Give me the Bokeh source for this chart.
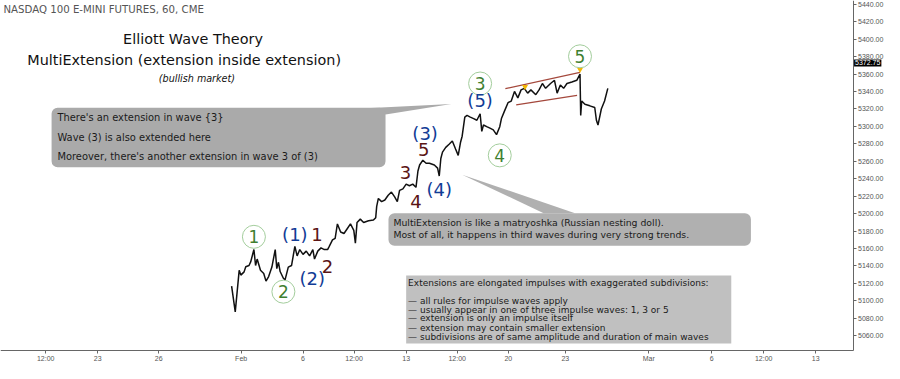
from bokeh.plotting import figure
from bokeh.models import Range1d, FixedTicker, Label, BoxAnnotation, PrintfTickFormatter
from bokeh.core.properties import value
from bokeh.embed import file_html
from bokeh.resources import INLINE

# ---------------- data ----------------
# position of each sampled hourly bar on the trading-time axis, and its price
bar_pos = [235.3, 239, 243, 244.7, 248, 249.7, 253, 254.7, 258, 259.7, 261.3, 264.7, 268, 270.3, 273, 276.3,
           279.7, 281.3, 283, 284.7, 288, 289.7, 293, 296.3, 299.7, 302, 304.7, 308, 311.3, 314.7, 318, 319.7,
           323, 326.3, 329.7, 333, 334.7, 338, 340.7, 343, 346.3, 349.7, 353, 356.3, 359.7, 361.3, 363, 366.3,
           369.7, 374.7, 379.7, 382, 383, 384.7, 388, 391.3, 394.7, 398, 401.3, 404, 406.3, 409.7, 413, 416.3,
           419.7, 423, 425, 426.7, 430, 433.3, 436.7, 441.7, 445, 446.7, 448.3, 450, 453.3, 456.7, 460, 463.3,
           466, 468.3, 470, 472.7, 475, 478.3, 481.7, 485, 488.3, 490, 491.7, 495, 498.3, 501.7, 505, 508.3,
           510, 513.3, 516.7, 520, 523.3, 526.7, 530, 533.3, 536.7, 540, 545, 548.3, 551.7, 555, 560, 564,
           566.7, 570, 573.3, 576.7, 581.7, 586.7, 590, 590.7, 591.7, 595, 600, 605, 606.7, 608.3, 610, 611.7,
           615, 618.3]
price = [5116.8, 5087.4, 5135, 5129.5, 5133.2, 5139.1, 5140.5, 5144.6, 5158.8, 5140.5, 5147.9, 5135, 5131.4,
         5122.6, 5127.8, 5138.7, 5158.8, 5136.9, 5144.2, 5133.6, 5125.9, 5124, 5138.7, 5140.5, 5162.5, 5151.5,
         5158.8, 5153.3, 5157, 5151.5, 5158.8, 5147.9, 5157, 5160.7, 5158.8, 5158.8, 5162.5, 5169.8, 5171.7,
         5188.2, 5178.9, 5177.2, 5182.7, 5188.2, 5180.8, 5166.2, 5189.9, 5193.7, 5189.9, 5191.8, 5192.6, 5195.4,
         5208.3, 5217.4, 5213.8, 5215.6, 5221.1, 5224.7, 5219.2, 5213.8, 5226.6, 5228.4, 5233.8, 5232, 5233.8,
         5230.2, 5248.9, 5255.8, 5261.3, 5257.7, 5257.7, 5255.8, 5252.2, 5243.1, 5263.2, 5270.5, 5276, 5279.6,
         5283.3, 5274.2, 5266.8, 5281.5, 5288.8, 5310.7, 5312.6, 5310.7, 5309, 5307.1, 5314.5, 5294.3, 5301.6,
         5299.7, 5298, 5296.1, 5290.6, 5299.7, 5309, 5318.1, 5327.2, 5329.1, 5340.1, 5332.7, 5341.9, 5343.7,
         5338.2, 5341.9, 5336.4, 5341.9, 5349.2, 5343.7, 5349.2, 5352.9, 5338.2, 5347.4, 5343.7, 5349.2, 5351,
         5352.9, 5360, 5312.6, 5329.1, 5325.4, 5323.6, 5321.7, 5307.1, 5301.6, 5310.7, 5320, 5329.1, 5343.7]

date_ticks = [46, 99, 161, 245, 308, 360, 413, 465, 517, 575, 660, 724, 777, 830]
date_labels = ["12:00", "23", "26", "Feb", "6", "12:00", "13", "12:00", "20", "23", "Mar", "6", "12:00", "13"]
price_ticks = [5060, 5080, 5100, 5120, 5140, 5160, 5180, 5200, 5220, 5240, 5260, 5280, 5300, 5320, 5340,
               5360, 5380, 5400, 5420, 5440]
last_price = 5372.75

# Elliott wave labels (text, bar position, price level)
primary_txt = ["1", "2", "3", "4", "5"]
primary_x = [258, 288, 488.3, 508.3, 590]
primary_y = [5173.4, 5110.5, 5349.2, 5266.8, 5380.4]
inter_txt = ["(1)", "(2)", "(3)", "(4)", "(5)"]
inter_x = [299.7, 317.3, 432.3, 446.7, 488.3]
inter_y = [5176.1, 5125.9, 5291.4, 5227.3, 5329.8]
minor_txt = ["1", "2", "3", "4", "5"]
minor_x = [322.3, 333, 412.3, 423, 431]
minor_y = [5176.1, 5139.4, 5247.5, 5213.8, 5273.4]

# ending-diagonal channel of wave 5
chan_x0 = [514, 525]
chan_y0 = [5343.3, 5324.7]
chan_x1 = [590, 587]
chan_y1 = [5362.0, 5335.7]
marker_x = [534, 590]
marker_y = [5345.5, 5365.3]

# ---------------- layout helpers ----------------
FONT = "DejaVu Sans"
X_END = 868  # where the price scale sits on the time axis


def py(v):
    """vertical layout position (reference pixel row) -> price level"""
    return 5440 - (v - 4) / 0.9105


p = figure(width=884, height=363, output_backend="svg", toolbar_location=None,
           x_range=Range1d(0, 900), y_range=Range1d(py(379), py(0)),
           y_axis_location="right")
p.min_border_left = 0
p.min_border_top = 0
p.min_border_right = 0
p.min_border_bottom = 0
p.outline_line_color = None
p.xgrid.visible = False
p.ygrid.visible = False
p.background_fill_color = "white"
p.border_fill_color = "white"

for ax in (p.yaxis[0], p.xaxis[0]):
    ax.major_label_text_font = "Liberation Sans"
    ax.major_label_text_font_size = "7px"
    ax.major_label_text_color = "#555555"
    ax.axis_line_color = "#666666"
    ax.major_tick_line_color = "#666666"
    ax.major_tick_in = 0
    ax.major_tick_out = 3
    ax.minor_tick_line_color = None
    ax.major_label_standoff = 2
    ax.axis_label = None

ya = p.yaxis[0]
ya.ticker = FixedTicker(ticks=price_ticks)
ya.formatter = PrintfTickFormatter(format="%.2f")
ya.fixed_location = X_END
ya.bounds = (py(365), py(0))

xa = p.xaxis[0]
xa.ticker = FixedTicker(ticks=date_ticks)
xa.major_label_overrides = {t: l for t, l in zip(date_ticks, date_labels)}
xa.fixed_location = py(365)
xa.bounds = (0, X_END)

# callout tails
p.patch([372, 392, 459], [py(112.5), py(119), py(108)], fill_color="#aaaaaa", line_color=None)
p.patch([470, 553, 585], [py(182), py(222), py(222)], fill_color="#b0b0b0", line_color=None)

# price
p.line(bar_pos, price, line_color="#111111", line_width=1.5)

# channel and markers
p.segment(x0=chan_x0, y0=chan_y0, x1=chan_x1, y1=chan_y1, line_color="#a4483c", line_width=1.3)
p.scatter(marker_x, marker_y, marker="inverted_triangle", size=6, fill_color="#f2b705", line_color=None)

# wave labels
p.scatter(primary_x, primary_y, marker="circle", size=23, fill_color=None, line_color="#a3cd9c", line_width=1)
p.text(primary_x, primary_y, text=primary_txt, text_align="center", text_baseline="middle",
       text_font=value(FONT), text_font_size="17px", text_color="#3f7f30")
p.text(inter_x, inter_y, text=inter_txt, text_align="center", text_baseline="middle",
       text_font=value(FONT), text_font_size="18px", text_color="#123c96")
p.text(minor_x, minor_y, text=minor_txt, text_align="center", text_baseline="middle",
       text_font=value(FONT), text_font_size="18px", text_color="#5a1414")

# boxes
p.add_layout(BoxAnnotation(left=52, right=392, top=py(112), bottom=py(174), fill_color="#aaaaaa",
                           fill_alpha=1, line_color=None, border_radius=6))
p.add_layout(BoxAnnotation(left=395, right=764, top=py(222), bottom=py(256), fill_color="#b0b0b0",
                           fill_alpha=1, line_color=None, border_radius=6))
p.add_layout(BoxAnnotation(left=413, right=744, top=py(287), bottom=py(358), fill_color="#c0c0c0",
                           fill_alpha=1, line_color=None))


def lab(x, yv, txt, size, color="#1a1a1a", align="left", style="normal", font=FONT):
    p.add_layout(Label(x=x, y=py(yv), text=txt, text_font=font, text_font_size=size,
                       text_color=color, text_align=align, text_baseline="middle",
                       text_font_style=style))


lab(3, 9.3, "NASDAQ 100 E-MINI FUTURES, 60, CME", "10.2px", color="#555555")
lab(196, 40, "Elliott Wave Theory", "14.4px", color="#111111", align="center")
lab(187, 61.7, "MultiExtension (extension inside extension)", "14.4px", color="#111111", align="center")
lab(200, 81, "(bullish market)", "9.6px", color="#111111", align="center", style="italic")

lab(58, 122.3, "There's an extension in wave {3}", "9.9px")
lab(58, 142.7, "Wave (3) is also extended here", "9.9px")
lab(58, 163.3, "Moreover, there's another extension in wave 3 of (3)", "9.9px")

lab(400, 232.3, "MultiExtension is like a matryoshka (Russian nesting doll).", "9.3px")
lab(400, 244.3, "Most of all, it happens in third waves during very strong trends.", "9.3px")

box3 = ["Extensions are elongated impulses with exaggerated subdivisions:", "",
        "\u2014 all rules for impulse waves apply",
        "\u2014 usually appear in one of three impulse waves: 1, 3 or 5",
        "\u2014 extension is only an impulse itself",
        "\u2014 extension may contain smaller extension",
        "\u2014 subdivisions are of same amplitude and duration of main waves"]
rows = [295, 304, 313.3, 322.7, 331.9, 341.7, 351.7]
for r, t in zip(rows, box3):
    if t:
        lab(415, r, t, "9px")

# last price tag on the price scale
p.add_layout(Label(x=X_END, y=last_price, text="5372.75", text_font="Liberation Sans",
                   text_font_size="7px", text_color="white", background_fill_color="black",
                   background_fill_alpha=1.0, text_baseline="middle", x_offset=1, padding=1,
                   level="overlay"))

open("out.html", "w").write(file_html(p, INLINE))
